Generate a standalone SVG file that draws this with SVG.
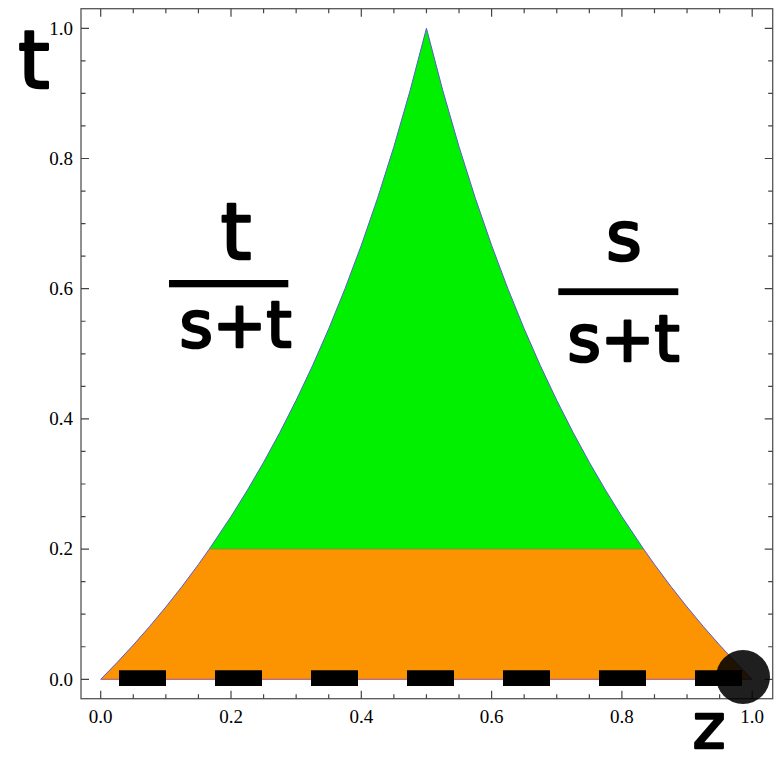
<svg xmlns="http://www.w3.org/2000/svg" width="778" height="765" viewBox="0 0 778 765">
<style>
.tick{fill:#000;font-family:"Liberation Serif","Times New Roman",serif;font-size:19px}
.big{fill:#000;stroke:#000;stroke-width:2.6;stroke-linejoin:round;stroke-linecap:round;font-family:"DejaVu Sans",sans-serif}
.curve{fill:none;stroke:#5b5bd6;stroke-width:1}
</style>
<rect width="778" height="765" fill="#fff"/>
<g id="regions">
<polygon id="green" fill="#00f000" points="209.28,549.1 231.0,516.55 247.29,490.30 263.58,462.30 279.86,432.37 296.15,400.30 312.44,365.86 328.73,328.76 345.01,288.70 361.30,245.30 377.59,198.13 393.88,146.66 410.16,90.30 426.45,28.30 442.74,90.30 459.02,146.66 475.31,198.13 491.6,245.30 507.89,288.70 524.17,328.76 540.46,365.86 556.75,400.30 573.04,432.37 589.32,462.30 605.61,490.30 621.9,516.55 643.62,549.1"/>
<polygon id="orange" fill="#fc9300" points="100.7,679.3 116.99,662.61 133.28,645.04 149.56,626.52 165.85,606.97 182.14,586.30 198.43,564.42 209.28,549.1 643.62,549.1 654.47,564.42 670.76,586.30 687.05,606.97 703.34,626.52 719.62,645.04 735.91,662.61 752.2,679.3"/>
<line x1="209.28" y1="549.1" x2="643.62" y2="549.1" stroke="#8c8c30" stroke-width="0.8"/>
<polyline class="curve" points="100.7,679.3 116.99,662.61 133.28,645.04 149.56,626.52 165.85,606.97 182.14,586.30 198.43,564.42 209.28,549.1 231.0,516.55 247.29,490.30 263.58,462.30 279.86,432.37 296.15,400.30 312.44,365.86 328.73,328.76 345.01,288.70 361.30,245.30 377.59,198.13 393.88,146.66 410.16,90.30 426.45,28.30 442.74,90.30 459.02,146.66 475.31,198.13 491.6,245.30 507.89,288.70 524.17,328.76 540.46,365.86 556.75,400.30 573.04,432.37 589.32,462.30 605.61,490.30 621.9,516.55 643.62,549.1 654.47,564.42 670.76,586.30 687.05,606.97 703.34,626.52 719.62,645.04 735.91,662.61 752.2,679.3"/>
<line x1="100.7" y1="679.3" x2="752.2" y2="679.3" stroke="#a0508c" stroke-width="1"/>
</g>
<g id="frame">
<rect x="81" y="8.7" width="691.7" height="690" fill="none" stroke="#555" stroke-width="1.3"/>
<path stroke="#444" stroke-width="1.2" fill="none" d="M100.7,698.7V690.7M133.28,698.7V694.2M165.85,698.7V694.2M198.43,698.7V694.2M231,698.7V690.7M263.58,698.7V694.2M296.15,698.7V694.2M328.73,698.7V694.2M361.3,698.7V690.7M393.88,698.7V694.2M426.45,698.7V694.2M459.03,698.7V694.2M491.6,698.7V690.7M524.18,698.7V694.2M556.75,698.7V694.2M589.33,698.7V694.2M621.9,698.7V690.7M654.48,698.7V694.2M687.05,698.7V694.2M719.63,698.7V694.2M752.2,698.7V690.7
M100.7,8.7V16.7M133.28,8.7V13.2M165.85,8.7V13.2M198.43,8.7V13.2M231,8.7V16.7M263.58,8.7V13.2M296.15,8.7V13.2M328.73,8.7V13.2M361.3,8.7V16.7M393.88,8.7V13.2M426.45,8.7V13.2M459.03,8.7V13.2M491.6,8.7V16.7M524.18,8.7V13.2M556.75,8.7V13.2M589.33,8.7V13.2M621.9,8.7V16.7M654.48,8.7V13.2M687.05,8.7V13.2M719.63,8.7V13.2M752.2,8.7V16.7
M81,679.3H89M81,646.75H85.5M81,614.2H85.5M81,581.65H85.5M81,549.1H89M81,516.55H85.5M81,484H85.5M81,451.45H85.5M81,418.9H89M81,386.35H85.5M81,353.8H85.5M81,321.25H85.5M81,288.7H89M81,256.15H85.5M81,223.6H85.5M81,191.05H85.5M81,158.5H89M81,125.95H85.5M81,93.4H85.5M81,60.85H85.5M81,28.3H89
M772.7,679.3H764.7M772.7,646.75H768.2M772.7,614.2H768.2M772.7,581.65H768.2M772.7,549.1H764.7M772.7,516.55H768.2M772.7,484H768.2M772.7,451.45H768.2M772.7,418.9H764.7M772.7,386.35H768.2M772.7,353.8H768.2M772.7,321.25H768.2M772.7,288.7H764.7M772.7,256.15H768.2M772.7,223.6H768.2M772.7,191.05H768.2M772.7,158.5H764.7M772.7,125.95H768.2M772.7,93.4H768.2M772.7,60.85H768.2M772.7,28.3H764.7"/>
<g class="tick" text-anchor="end" font-family="'Liberation Serif', serif" font-size="19">
<text x="73" y="685.5">0.0</text>
<text x="73" y="555.3">0.2</text>
<text x="73" y="425.1">0.4</text>
<text x="73" y="294.9">0.6</text>
<text x="73" y="164.7">0.8</text>
<text x="73" y="34.5">1.0</text>
</g>
<g class="tick" text-anchor="middle" font-family="'Liberation Serif', serif" font-size="19">
<text x="100.7" y="722.5">0.0</text>
<text x="231" y="722.5">0.2</text>
<text x="361.3" y="722.5">0.4</text>
<text x="491.6" y="722.5">0.6</text>
<text x="621.9" y="722.5">0.8</text>
<text x="752.2" y="722.5">1.0</text>
</g>
</g>
<g id="connectors">
<line id="dashed" x1="119" y1="678.2" x2="742" y2="678.2" stroke="#000" stroke-width="15.7" stroke-dasharray="47 49"/>
</g>
<g id="point">
<circle cx="743" cy="677" r="27" fill="#000" fill-opacity="0.88"/>
</g>
<g id="axis-labels">
<text class="big" x="34" y="88" font-size="80" text-anchor="middle">t</text>
<text class="big" x="709" y="748" font-size="62" text-anchor="middle">z</text>
</g>
<g id="fraction-left">
<text class="big" x="236" y="259" font-size="78" text-anchor="middle">t</text>
<rect x="169" y="280" width="119.3" height="7.3" fill="#000"/>
<text class="big" x="235.5" y="347" font-size="64" text-anchor="middle" textLength="112" lengthAdjust="spacingAndGlyphs">s+t</text>
</g>
<g id="fraction-right">
<text class="big" x="624" y="260" font-size="68" text-anchor="middle">s</text>
<rect x="558.3" y="288.3" width="120" height="6.8" fill="#000"/>
<text class="big" x="623.5" y="361" font-size="64" text-anchor="middle" textLength="112" lengthAdjust="spacingAndGlyphs">s+t</text>
</g>
</svg>
